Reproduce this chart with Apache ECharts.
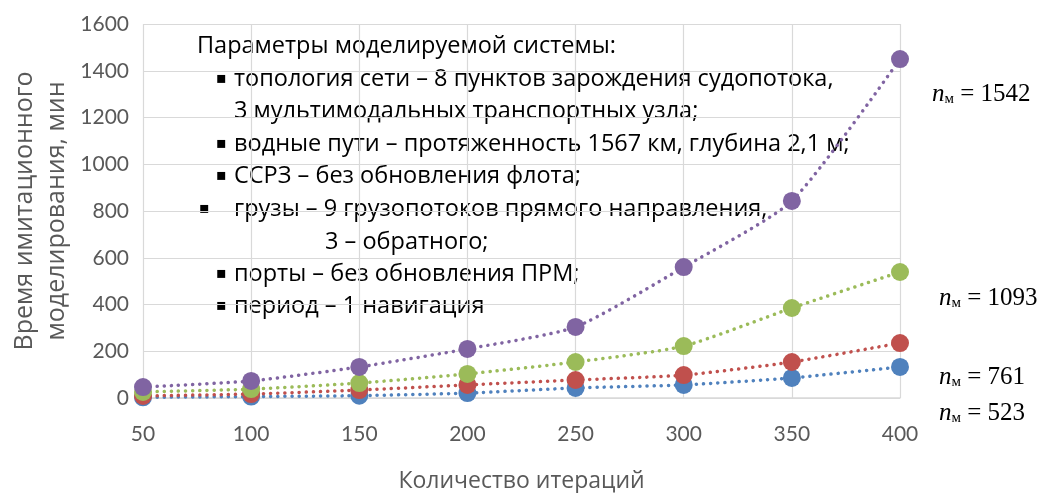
<!DOCTYPE html>
<html><head><meta charset="utf-8">
<script src="https://cdn.jsdelivr.net/npm/echarts@6/dist/echarts.min.js"></script>
<style>html,body{margin:0;padding:0;background:#fff}#c{width:1051px;height:493px}</style>
</head><body><div id="c"></div>
<script>
const categories = ['50','100','150','200','250','300','350','400'];
const seriesBlue = [3, 6, 10, 21, 43, 56, 86, 133];
const seriesRed = [9, 17, 34, 56, 77, 98, 154, 235];
const seriesGreen = [26, 38, 64, 103, 154, 222, 385, 539];
const seriesPurple = [47, 73, 133, 210, 304, 560, 843, 1450];
const seriesNames = ['n_м = 523', 'n_м = 761', 'n_м = 1093', 'n_м = 1542'];
const colors = ['#4F81BD', '#C0504D', '#9BBB59', '#8064A2'];
const noteLines = [
  {t: 'Параметры моделируемой системы:', x: 197, y: 46, b: null},
  {t: 'топология сети – 8 пунктов зарождения судопотока,', x: 234, y: 79, b: 216},
  {t: '3 мультимодальных транспортных узла;', x: 234, y: 111, b: null},
  {t: 'водные пути – протяженность 1567 км, глубина 2,1 м;', x: 234, y: 144, b: 216},
  {t: 'ССРЗ – без обновления флота;', x: 234, y: 176, b: 216},
  {t: 'грузы – 9 грузопотоков прямого направления,', x: 234, y: 209, b: 199},
  {t: '3 – обратного;', x: 325, y: 242, b: null},
  {t: 'порты – без обновления ПРМ;', x: 234, y: 274, b: 216},
  {t: 'период – 1 навигация', x: 234, y: 306, b: 216}
];
const nLabels = [
  {v: '1542', x: 932, y: 94},
  {v: '1093', x: 939, y: 298},
  {v: '761', x: 939, y: 377},
  {v: '523', x: 939, y: 413}
];
const data = [seriesBlue, seriesRed, seriesGreen, seriesPurple];
const chart = echarts.init(document.getElementById('c'));
const font = 'Lato';
const graphic = [];
noteLines.forEach(l => {
  graphic.push({type: 'text', x: l.x, y: l.y, style: {text: l.t, font: '23.5px Open Sans', fill: '#000', verticalAlign: 'middle'}});
  if (l.b !== null) graphic.push({type: 'text', x: l.b, y: l.y, style: {text: '▪', font: '16px DejaVu Sans', fill: '#000', verticalAlign: 'middle'}});
});
nLabels.forEach(l => {
  graphic.push({type: 'text', x: l.x, y: l.y, style: {
    text: '{i|n}{s|м}{r| = ' + l.v + '}', verticalAlign: 'middle',
    rich: {
      i: {fontFamily: 'Liberation Serif', fontStyle: 'italic', fontSize: 25, fill: '#000', verticalAlign: 'bottom'},
      s: {fontFamily: 'Liberation Serif', fontSize: 15, fill: '#000', padding: [11, 0, 0, 0], verticalAlign: 'bottom'},
      r: {fontFamily: 'Liberation Serif', fontSize: 25, fill: '#000', verticalAlign: 'bottom'}
    }
  }});
});
graphic.push({type: 'text', x: 41, y: 211, rotation: Math.PI / 2, style: {
  text: 'Время имитационного\nмоделирования, мин', font: '25px Open Sans', fill: '#595959', align: 'center', verticalAlign: 'middle', lineHeight: 32
}});
chart.setOption({
  animation: false,
  grid: {left: 143, right: 151, top: 24, bottom: 95, containLabel: false, outerBoundsMode: 'none'},
  graphic: graphic,
  xAxis: {
    type: 'category', data: categories, boundaryGap: false,
    name: 'Количество итераций', nameLocation: 'middle', nameGap: 72,
    nameTextStyle: {fontFamily: 'Open Sans', fontSize: 23, color: '#595959'},
    axisLine: {lineStyle: {color: '#D9D9D9', width: 1.5}},
    axisTick: {show: false},
    axisLabel: {fontFamily: font, fontSize: 21, color: '#595959', margin: 26},
    splitLine: {show: true, lineStyle: {color: '#D9D9D9', width: 1.2}}
  },
  yAxis: {
    type: 'value', min: 0, max: 1600, interval: 200,
    axisLine: {show: false}, axisTick: {show: false},
    axisLabel: {fontFamily: font, fontSize: 21, color: '#595959', margin: 14, formatter: v => String(v)},
    splitLine: {lineStyle: {color: '#D9D9D9', width: 1.2}}
  },
  series: data.map((d, i) => ({
    name: seriesNames[i], type: 'line', data: d, smooth: 0.2,
    symbol: 'circle', symbolSize: 18,
    itemStyle: {color: colors[i]},
    lineStyle: {color: colors[i], width: 3.5, type: [0.1, 7], cap: 'round'},
    z: 2 + i
  }))
});
</script></body></html>
